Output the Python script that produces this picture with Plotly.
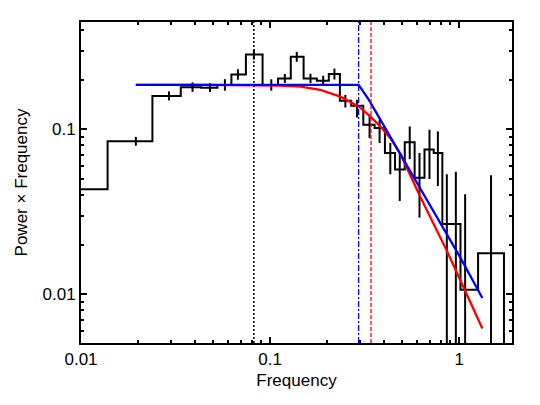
import numpy as np
import plotly.graph_objects as go

# binned power spectrum (bin centre, power x freq, upper / lower end of error bar)
freq = [0.0098, 0.0195, 0.0292, 0.0389, 0.0481, 0.0577, 0.0676, 0.0821, 0.1015, 0.1197,
        0.1384, 0.1636, 0.1910, 0.2190, 0.2502, 0.2884, 0.3360, 0.3796, 0.4325, 0.4853,
        0.548, 0.6172, 0.697, 0.772, 0.861, 0.961, 1.076, 1.475]
power = [0.0433, 0.0847, 0.1596, 0.1803, 0.1791, 0.1859, 0.2153, 0.2842, 0.1859, 0.2037,
         0.2753, 0.2037, 0.1973, 0.2165, 0.1489, 0.1389, 0.1067, 0.1018, 0.0720, 0.0572,
         0.0835, 0.0509, 0.0754, 0.0720, 0.0267, 0.0267, 0.01067, 0.01773]
err_top = [0.0458, 0.0901, 0.1699, 0.1927, 0.1906, 0.2015, 0.2317, 0.3046, 0.2012, 0.2168,
           0.2951, 0.2174, 0.2115, 0.2337, 0.1618, 0.1510, 0.1227, 0.1144, 0.0827, 0.0707,
           0.1042, 0.0720, 0.0996, 0.0973, 0.0534, 0.0553, 0.0404, 0.0528]
err_bot = [0.0409, 0.0796, 0.1499, 0.1687, 0.1683, 0.1715, 0.2000, 0.2652, 0.1718, 0.1914,
           0.2569, 0.1908, 0.1841, 0.2006, 0.1357, 0.1181, 0.0886, 0.0827, 0.0534, 0.0368,
           0.0660, 0.0292, 0.0500, 0.0454, 0.001, 0.001, 0.001, 0.001]

# smoothly bending model (red) and broken power law (blue)
red_f = [0.0195, 0.043, 0.1136, 0.1449, 0.1847, 0.2355, 0.294, 0.339, 0.383, 0.432,
         0.489, 0.623, 0.861, 1.327]
red_p = [0.186, 0.186, 0.184, 0.1816, 0.1734, 0.158, 0.1377, 0.1198, 0.1043, 0.0887,
         0.0710, 0.0390, 0.0184, 0.0062]
blue_f = [0.0195, 0.294, 0.332, 0.383, 0.623, 1.012, 1.327]
blue_p = [0.186, 0.186, 0.152, 0.1144, 0.0440, 0.0168, 0.0095]

# characteristic frequencies
f_dotted = 0.0821
f_blue = 0.294
f_red = 0.342

x_ticks = [0.01, 0.1, 1]
x_ticktext = ["0.01", "0.1", "1"]
y_ticks = [0.01, 0.1]
y_ticktext = ["0.01", "0.1"]

FONT = "Liberation Sans, Arial, sans-serif"

# histogram steps: edges half way between centres in log space
lf = np.log10(freq)
mids = (lf[:-1] + lf[1:]) / 2
edges = np.concatenate([[2 * lf[0] - mids[0]], mids, [2 * lf[-1] - mids[-1]]])
step_x, step_y = [10 ** edges[0]], [1e-4]
for i, p in enumerate(power):
    step_x += [10 ** edges[i], 10 ** edges[i + 1]]
    step_y += [p, p]
step_x.append(10 ** edges[-1])
step_y.append(1e-4)

p_arr = np.array(power)
fig = go.Figure()
fig.add_trace(go.Scatter(x=step_x, y=step_y, mode="lines",
                         line=dict(color="black", width=2)))
fig.add_trace(go.Scatter(x=freq, y=power, mode="markers",
                         marker=dict(size=1, color="black"),
                         error_y=dict(type="data", symmetric=False,
                                      array=np.array(err_top) - p_arr,
                                      arrayminus=p_arr - np.array(err_bot),
                                      color="black", thickness=2, width=0)))
fig.add_trace(go.Scatter(x=red_f, y=red_p, mode="lines",
                         line=dict(color="#ff0000", width=2.3)))
fig.add_trace(go.Scatter(x=blue_f, y=blue_p, mode="lines",
                         line=dict(color="#0000ff", width=2.3)))

fig.add_vline(x=f_dotted, line=dict(color="black", width=1.5, dash="2px,2px"))
fig.add_vline(x=f_blue, line=dict(color="#0000ff", width=1.3, dash="6px,2px,2px,2px"))
fig.add_vline(x=f_red, line=dict(color="#ff0000", width=1.3, dash="4px,2px"))

minor_x = [m * 10.0 ** d for d in (-2, -1, 0) for m in range(2, 10)]
minor_y = [m * 10.0 ** d for d in (-3, -2, -1) for m in range(2, 10)]

axis_common = dict(type="log", showline=True, linecolor="black", linewidth=2,
                   mirror="ticks", ticks="inside", ticklen=6, tickwidth=1.5,
                   tickcolor="black", showgrid=False, zeroline=False,
                   tickfont=dict(family=FONT, size=17, color="black"))

fig.update_xaxes(**axis_common, range=[-2, 0.2797], tickmode="array",
                 tickvals=x_ticks, ticktext=x_ticktext,
                 minor=dict(tickmode="array", tickvals=minor_x, ticks="inside",
                            ticklen=3, tickwidth=1.5, tickcolor="black"),
                 title=dict(text="Frequency", standoff=6,
                            font=dict(family=FONT, size=17, color="black")))
fig.update_yaxes(**axis_common, range=[-2.295, -0.349], tickmode="array",
                 tickvals=y_ticks, ticktext=y_ticktext,
                 minor=dict(tickmode="array", tickvals=minor_y, ticks="inside",
                            ticklen=3, tickwidth=1.5, tickcolor="black"),
                 title=dict(text="Power × Frequency", standoff=11,
                            font=dict(family=FONT, size=17, color="black")))

# page has an 8px body margin, so the margins are shifted to compensate
fig.update_layout(width=540, height=405, showlegend=False,
                  margin=dict(l=72, r=36, t=12, b=70),
                  plot_bgcolor="white", paper_bgcolor="white")

fig.write_html("out.html")
